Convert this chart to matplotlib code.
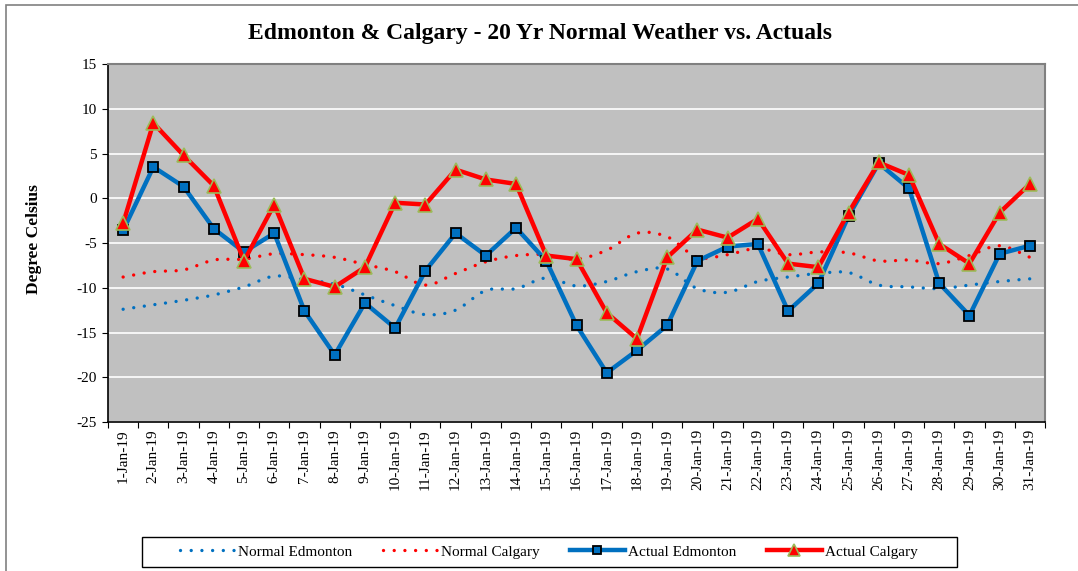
import matplotlib.pyplot as plt
import numpy as np
from matplotlib.path import Path
from matplotlib.patches import PathPatch, Rectangle
from matplotlib.lines import Line2D

plt.rcParams['font.family'] = ['Liberation Serif', 'DejaVu Serif']
plt.rcParams['axes.unicode_minus'] = False

# data (deg C), 1-31 Jan 2019
days = [f"{d}-Jan-19" for d in range(1, 32)]

normal_edmonton = [-12.4, -11.9, -11.4, -10.8, -9.9, -8.7, -9.1, -9.6, -10.8, -12.0,
                   -13.0, -12.5, -10.3, -10.1, -8.9, -9.8, -9.3, -8.2, -7.9, -10.1,
                   -10.5, -9.3, -8.8, -8.4, -8.3, -9.7, -9.9, -10.1, -9.7, -9.3, -9.0]
normal_calgary = [-8.8, -8.2, -8.0, -6.9, -6.8, -6.2, -6.3, -6.6, -7.4, -8.2,
                  -9.7, -8.4, -7.1, -6.4, -6.3, -6.8, -5.8, -3.9, -4.3, -6.6,
                  -6.3, -5.6, -6.3, -6.0, -6.1, -7.0, -6.9, -7.3, -6.4, -5.3, -6.6]
actual_edmonton = [-3.6, 3.5, 1.3, -3.4, -6.0, -3.9, -12.6, -17.5, -11.7, -14.5,
                   -8.1, -3.9, -6.4, -3.3, -7.0, -14.2, -19.5, -17.0, -14.2, -7.0,
                   -5.4, -5.1, -12.6, -9.5, -2.0, 3.9, 1.1, -9.5, -13.1, -6.2, -5.3]
actual_calgary = [-2.8, 8.4, 4.8, 1.4, -7.0, -0.7, -9.0, -9.9, -7.7, -0.5,
                  -0.7, 3.2, 2.1, 1.6, -6.4, -6.8, -12.8, -15.7, -6.6, -3.5,
                  -4.4, -2.3, -7.3, -7.7, -1.6, 4.0, 2.6, -5.1, -7.3, -1.6, 1.6]

BLUE = '#0070C0'
RED = '#FF0000'


def smooth_path(y):
    # Excel-style smoothed line drawn as cubic bezier segments
    x = np.arange(len(y), dtype=float)
    y = np.asarray(y, dtype=float)
    pts = np.column_stack([x, y])
    verts = [pts[0]]
    codes = [Path.MOVETO]
    n = len(pts)
    for i in range(n - 1):
        p0 = pts[max(i - 1, 0)]
        p1 = pts[i]
        p2 = pts[i + 1]
        p3 = pts[min(i + 2, n - 1)]
        c1 = p1 + (p2 - p0) / 6.0
        c2 = p2 - (p3 - p1) / 6.0
        verts += [c1, c2, p2]
        codes += [Path.CURVE4] * 3
    return Path(verts, codes)


fig = plt.figure(figsize=(10.78, 5.71), dpi=100)
ax = fig.add_axes([0.1002, 0.2609, 0.8692, 0.6270])
ax.set_facecolor('#C0C0C0')

# outer chart border
fig.patches.append(Rectangle((6 / 1078, -0.05), 1.1, 1 - 5 / 571 + 0.05,
                             transform=fig.transFigure, fill=False,
                             edgecolor='#808080', lw=1.2))

x = np.arange(len(days))
dot = (0, (0.01, 3.2))
for vals, col in [(normal_edmonton, BLUE), (normal_calgary, RED)]:
    ax.add_patch(PathPatch(smooth_path(vals), fill=False, edgecolor=col, lw=2.4,
                           linestyle=dot, capstyle='round', zorder=3))

l3, = ax.plot(x, actual_edmonton, color=BLUE, lw=3.2, marker='s', ms=7.5,
              mfc=BLUE, mec='black', mew=1.3, zorder=4, label='Actual Edmonton')
l4, = ax.plot(x, actual_calgary, color=RED, lw=3.2, marker='^', ms=10,
              mfc=RED, mec='#9BBB59', mew=1.2, zorder=5, label='Actual Calgary')

ax.set_xlim(-0.5, len(days) - 0.5)
ax.set_ylim(-25, 15)
ax.set_yticks(np.arange(-25, 16, 5))
ax.grid(axis='y', color='white', lw=1.2)
ax.set_axisbelow(True)

ax.set_xticks(np.arange(-0.5, len(days), 1.0))
ax.set_xticklabels([])
ax.set_xticks(x, minor=True)
ax.set_xticklabels(days, minor=True, rotation=90, fontsize=11)
ax.tick_params(axis='x', which='minor', length=0, pad=5)
ax.tick_params(axis='x', which='major', direction='out', length=4, color='black')
ax.tick_params(axis='y', direction='out', length=4, labelsize=11, pad=4)

for s in ['left', 'bottom']:
    ax.spines[s].set_color('black')
    ax.spines[s].set_linewidth(1.2)
for s in ['top', 'right']:
    ax.spines[s].set_color('#808080')
    ax.spines[s].set_linewidth(1.5)

fig.text(0.501, 0.942, 'Edmonton & Calgary - 20 Yr Normal Weather vs. Actuals',
         ha='center', va='center', fontsize=17, fontweight='bold')
fig.text(0.032, 0.582, 'Degree Celsius', rotation=90, ha='center', va='center',
         fontsize=12.5, fontweight='bold')

h1 = Line2D([], [], color=BLUE, lw=2.4, linestyle=dot, dash_capstyle='round')
h2 = Line2D([], [], color=RED, lw=2.4, linestyle=dot, dash_capstyle='round')
leg = fig.legend([h1, h2, l3, l4],
                 ['Normal Edmonton', 'Normal Calgary', 'Actual Edmonton', 'Actual Calgary'],
                 loc='center', bbox_to_anchor=(0.509, 0.0333),
                 ncol=4, fontsize=11, frameon=False,
                 handlelength=3.6, handletextpad=0.2, numpoints=1, borderpad=0,
                 borderaxespad=0, columnspacing=2.0, markerscale=0.85)

# legend box
fig.patches.append(Rectangle((142 / 1078, 1 - 567 / 571), 815 / 1078, 30 / 571,
                             transform=fig.transFigure, fill=False,
                             edgecolor='black', lw=1.0))

fig.savefig('out.png', dpi=100)
